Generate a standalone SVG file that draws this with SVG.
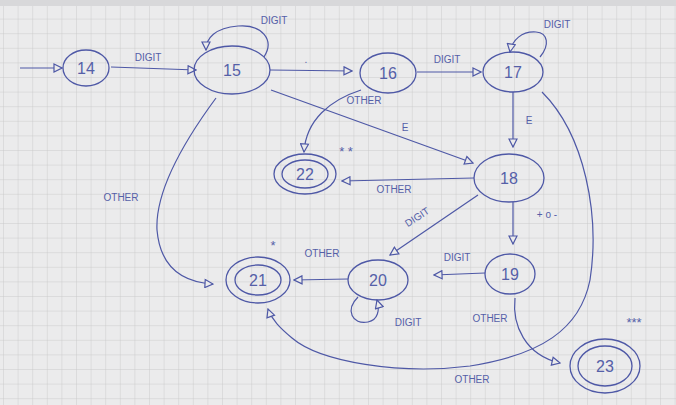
<svg xmlns="http://www.w3.org/2000/svg" width="676" height="405" viewBox="0 0 676 405">
<defs>
<pattern id="grid" width="14.6" height="14.6" patternUnits="userSpaceOnUse" x="3" y="4">
<path d="M14.6 0 L0 0 0 14.6" fill="none" stroke="#c4c4c6" stroke-width="0.8"/>
</pattern>
<marker id="arr" viewBox="0 0 10 10" refX="9" refY="5" markerWidth="10" markerHeight="10" markerUnits="userSpaceOnUse" orient="auto">
<path d="M1,1 L9,5 L1,9 Z" fill="#ebebeb" stroke="#4e58a6" stroke-width="1.2"/>
</marker>
<style>
.e{fill:none;stroke:#4e58a6;stroke-width:1.3}
.c{fill:none;stroke:#4e58a6;stroke-width:1.2;marker-end:url(#arr)}
.n{font-family:"Liberation Sans",sans-serif;font-size:16px;fill:#5560a8;text-anchor:middle}
.l{font-family:"Liberation Sans",sans-serif;font-size:10px;fill:#5560a8;text-anchor:middle}
</style>
</defs>
<rect width="676" height="405" fill="#ebebec"/>
<rect width="676" height="405" fill="url(#grid)"/>
<rect x="0" y="0" width="676" height="6" fill="#d8d8da"/>
<g id="connectors">
<path class="c" d="M20,68 L62,68"/>
<path class="c" d="M111,67 L196,70"/>
<text class="l" x="148" y="61">DIGIT</text>
<path class="c" d="M264,57 C275,40 262,24 238,26 C215,28 206,38 206,50"/>
<text class="l" x="274" y="24">DIGIT</text>
<path class="c" d="M270,70 L352,71"/>
<text class="l" x="306" y="63">.</text>
<path class="c" d="M417,72 L481,72"/>
<text class="l" x="447" y="63">DIGIT</text>
<path class="c" d="M540,57 C550,45 548,33 536,32 C522,31 512,40 510,52"/>
<text class="l" x="557" y="28">DIGIT</text>
<path class="c" d="M513,92 L513,147"/>
<text class="l" x="529" y="124">E</text>
<path class="c" d="M271,90 L473,163"/>
<text class="l" x="405" y="131">E</text>
<path class="c" d="M361,90 C330,100 306,120 304,152"/>
<text class="l" x="364" y="104">OTHER</text>
<path class="c" d="M474,178 L342,181"/>
<text class="l" x="394" y="193">OTHER</text>
<path class="c" d="M478,195 L390,255"/>
<text class="l" x="419" y="220" transform="rotate(-33 419 220)">DIGIT</text>
<path class="c" d="M513,202 L513,244"/>
<text class="l" x="547" y="218">+ o -</text>
<path class="c" d="M485,273 L434,275"/>
<text class="l" x="457" y="261">DIGIT</text>
<path class="c" d="M358,297 C345,310 352,325 368,322 C378,320 380,310 377,300"/>
<text class="l" x="408" y="326">DIGIT</text>
<path class="c" d="M348,279 L294,280"/>
<text class="l" x="322" y="257">OTHER</text>
<path class="c" d="M216,98 C185,140 155,190 157,230 C160,265 180,282 213,284"/>
<text class="l" x="121" y="201">OTHER</text>
<path class="c" d="M515,298 C512,325 525,355 560,363"/>
<text class="l" x="490" y="322">OTHER</text>
<path class="c" d="M542,92 C585,135 600,215 590,280 C580,330 540,355 470,366 C400,375 320,362 292,338 C280,328 272,320 268,309"/>
<text class="l" x="472" y="383">OTHER</text>
</g>
<g id="n14"><ellipse class="e" cx="86" cy="68" rx="23" ry="18"/><text class="n" x="86" y="74">14</text></g>
<g id="n15"><ellipse class="e" cx="232" cy="70" rx="38" ry="24"/><text class="n" x="232" y="76">15</text></g>
<g id="n16"><ellipse class="e" cx="388" cy="73" rx="28" ry="20"/><text class="n" x="388" y="79">16</text></g>
<g id="n17"><ellipse class="e" cx="513" cy="72" rx="30" ry="20"/><text class="n" x="513" y="78">17</text></g>
<g id="n18"><ellipse class="e" cx="509" cy="178" rx="35" ry="24"/><text class="n" x="509" y="184">18</text></g>
<g id="n19"><ellipse class="e" cx="510" cy="274" rx="25" ry="20"/><text class="n" x="510" y="280">19</text></g>
<g id="n20"><ellipse class="e" cx="378" cy="280" rx="30" ry="20"/><text class="n" x="378" y="286">20</text></g>
<g id="n21"><ellipse class="e" cx="258" cy="280" rx="32" ry="23"/><ellipse class="e" cx="258" cy="280" rx="23" ry="15"/><text class="n" x="258" y="286">21</text><text class="l" x="273" y="250" style="font-size:13px">*</text></g>
<g id="n22"><ellipse class="e" cx="305" cy="174" rx="31" ry="20"/><ellipse class="e" cx="305" cy="174" rx="23" ry="14"/><text class="n" x="305" y="180">22</text><text class="l" x="346" y="156" style="font-size:13px">* *</text></g>
<g id="n23"><ellipse class="e" cx="605" cy="366" rx="35" ry="27"/><ellipse class="e" cx="605" cy="366" rx="27" ry="20"/><text class="n" x="605" y="372">23</text><text class="l" x="634" y="327" style="font-size:13px">***</text></g>
</svg>
